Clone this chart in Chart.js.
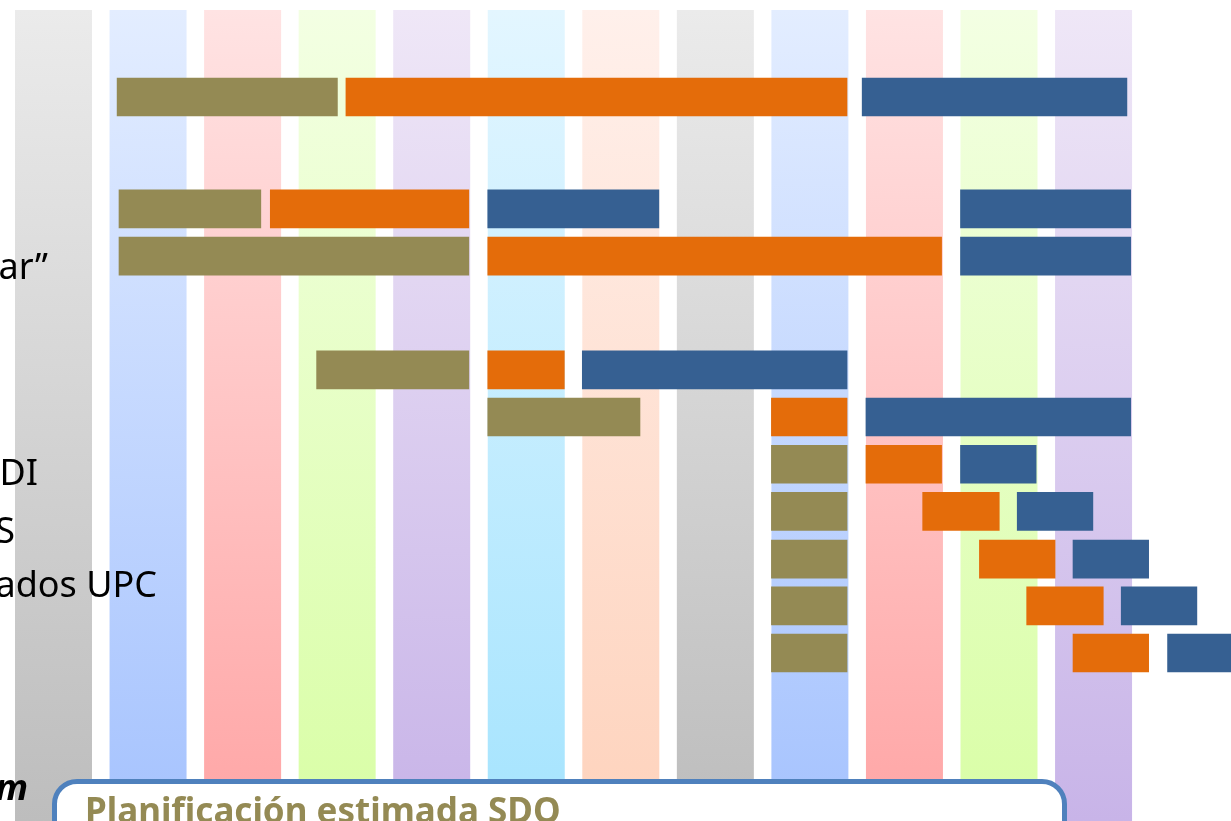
<!DOCTYPE html>
<html>
<head>
<meta charset="utf-8">
<script src="https://cdn.jsdelivr.net/npm/chart.js@4"></script>
<style>
  html, body { margin: 0; padding: 0; background: #fff; overflow: hidden; }
  #wrap { position: relative; width: 1231px; height: 821px; overflow: hidden; }
  #gantt { position: absolute; left: 0; top: 0; }
  #box {
    position: absolute; left: 52px; top: 779px; width: 1005px; height: 120px;
    border: 5px solid #4f81bd; border-radius: 25px; background: #fff;
  }
  #box span {
    display: block; padding: 8px 0 0 28px;
    font: bold 35px/35px "Noto Sans", sans-serif; color: #948a54; white-space: nowrap;
  }
</style>
</head>
<body>
<div id="wrap">
  <canvas id="gantt" width="1231" height="821"></canvas>
  <div id="box"><span>Planificación estimada SDO</span></div>
</div>
<script>
// months shown as coloured columns
const months = ['1', '2', '3', '4', '5', '6', '7', '8', '9', '10', '11', '12']
const monthTop = ['#ebebeb', '#e3edff', '#ffe3e3', '#f3ffe3', '#efe7f7', '#e3f6ff', '#fff0eb',
                  '#ebebeb', '#e3edff', '#ffe3e3', '#f3ffe3', '#efe7f7']
const monthBottom = ['#bdbdbd', '#a6c3fe', '#ffa6a6', '#d9fea6', '#c8b4e8', '#a6e4fe', '#fed3bd',
                     '#bdbdbd', '#a6c3fe', '#ffa6a6', '#d9fea6', '#c8b4e8']

// task rows (position in row units) and phases [start, end] in month units
const rowPos = [0, 2.37, 3.37, 5.78, 6.78, 7.78, 8.78, 9.79, 10.78, 11.78]
const phase1 = [[1.08, 3.41], [1.10, 2.60], [1.10, 4.80], [3.19, 4.80], [5.00, 6.61],
                [8.00, 8.80], [8.00, 8.80], [8.00, 8.80], [8.00, 8.80], [8.00, 8.80]]
const phase2 = [[3.50, 8.80], [2.70, 4.80], [5.00, 9.80], [5.00, 5.81], [8.00, 8.80],
                [9.00, 9.80], [9.60, 10.41], [10.20, 11.00], [10.70, 11.51], [11.19, 11.99]]
const phase3Row = [0, 1, 1, 2, 3, 4, 5, 6, 7, 8, 9]
const phase3 = [[8.96, 11.76], [5.00, 6.81], [10.00, 11.80], [10.00, 11.80], [6.00, 8.80],
                [9.00, 11.80], [10.00, 10.80], [10.60, 11.40], [11.19, 11.99], [11.70, 12.50], [12.19, 13.00]]

// row labels (cut at the left edge of the slide)
const labelText = ['tar”', 'PDI', 'S', 'ados UPC', 'm']
const labelPos = [3.86, 8.22, 9.45, 10.59, 14.90]

const colW = 77 / 94.55

const columns = {
  id: 'columns',
  beforeDatasetsDraw(chart) {
    const ctx = chart.ctx
    const xs = chart.scales.x
    const bottom = chart.chartArea.bottom
    months.forEach((m, i) => {
      const x0 = xs.getPixelForValue(i)
      const x1 = xs.getPixelForValue(i + colW)
      const g = ctx.createLinearGradient(0, 10, 0, bottom)
      g.addColorStop(0, monthTop[i])
      g.addColorStop(1, monthBottom[i])
      ctx.fillStyle = g
      ctx.fillRect(x0, 10, x1 - x0, bottom - 10)
    })
  },
  afterDatasetsDraw(chart) {
    const ctx = chart.ctx
    const ys = chart.scales.y
    const edge = [48, 38, 15, 157, 28]
    ctx.save()
    ctx.fillStyle = '#000'
    ctx.textAlign = 'right'
    ctx.textBaseline = 'alphabetic'
    labelText.forEach((t, i) => {
      ctx.font = (i === 4 ? 'italic bold ' : '') + '36px "Noto Sans"'
      ctx.fillText(t, edge[i], ys.getPixelForValue(labelPos[i]))
    })
    ctx.restore()
  }
}

const toPoints = (segs, rows) => segs.map((s, i) => ({ x: s, y: rowPos[rows ? rows[i] : i] }))

new Chart(document.getElementById('gantt'), {
  type: 'bar',
  data: {
    datasets: [
      { label: 'fase 1', data: toPoints(phase1), backgroundColor: '#948a54' },
      { label: 'fase 2', data: toPoints(phase2), backgroundColor: '#e46c0a' },
      { label: 'fase 3', data: toPoints(phase3, phase3Row), backgroundColor: '#366092' },
    ]
  },
  options: {
    indexAxis: 'y',
    responsive: false,
    animation: false,
    grouped: false,
    barThickness: 38,
    borderWidth: 0,
    borderSkipped: false,
    layout: { padding: 0 },
    scales: {
      x: { type: 'linear', min: -15 / 94.55, max: 1216 / 94.55, offset: false, display: false },
      y: { type: 'linear', min: -97 / 47.2, max: 724 / 47.2, reverse: true, offset: false, display: false }
    },
    plugins: { legend: { display: false }, tooltip: { enabled: false } }
  },
  plugins: [columns]
})
</script>
</body>
</html>
